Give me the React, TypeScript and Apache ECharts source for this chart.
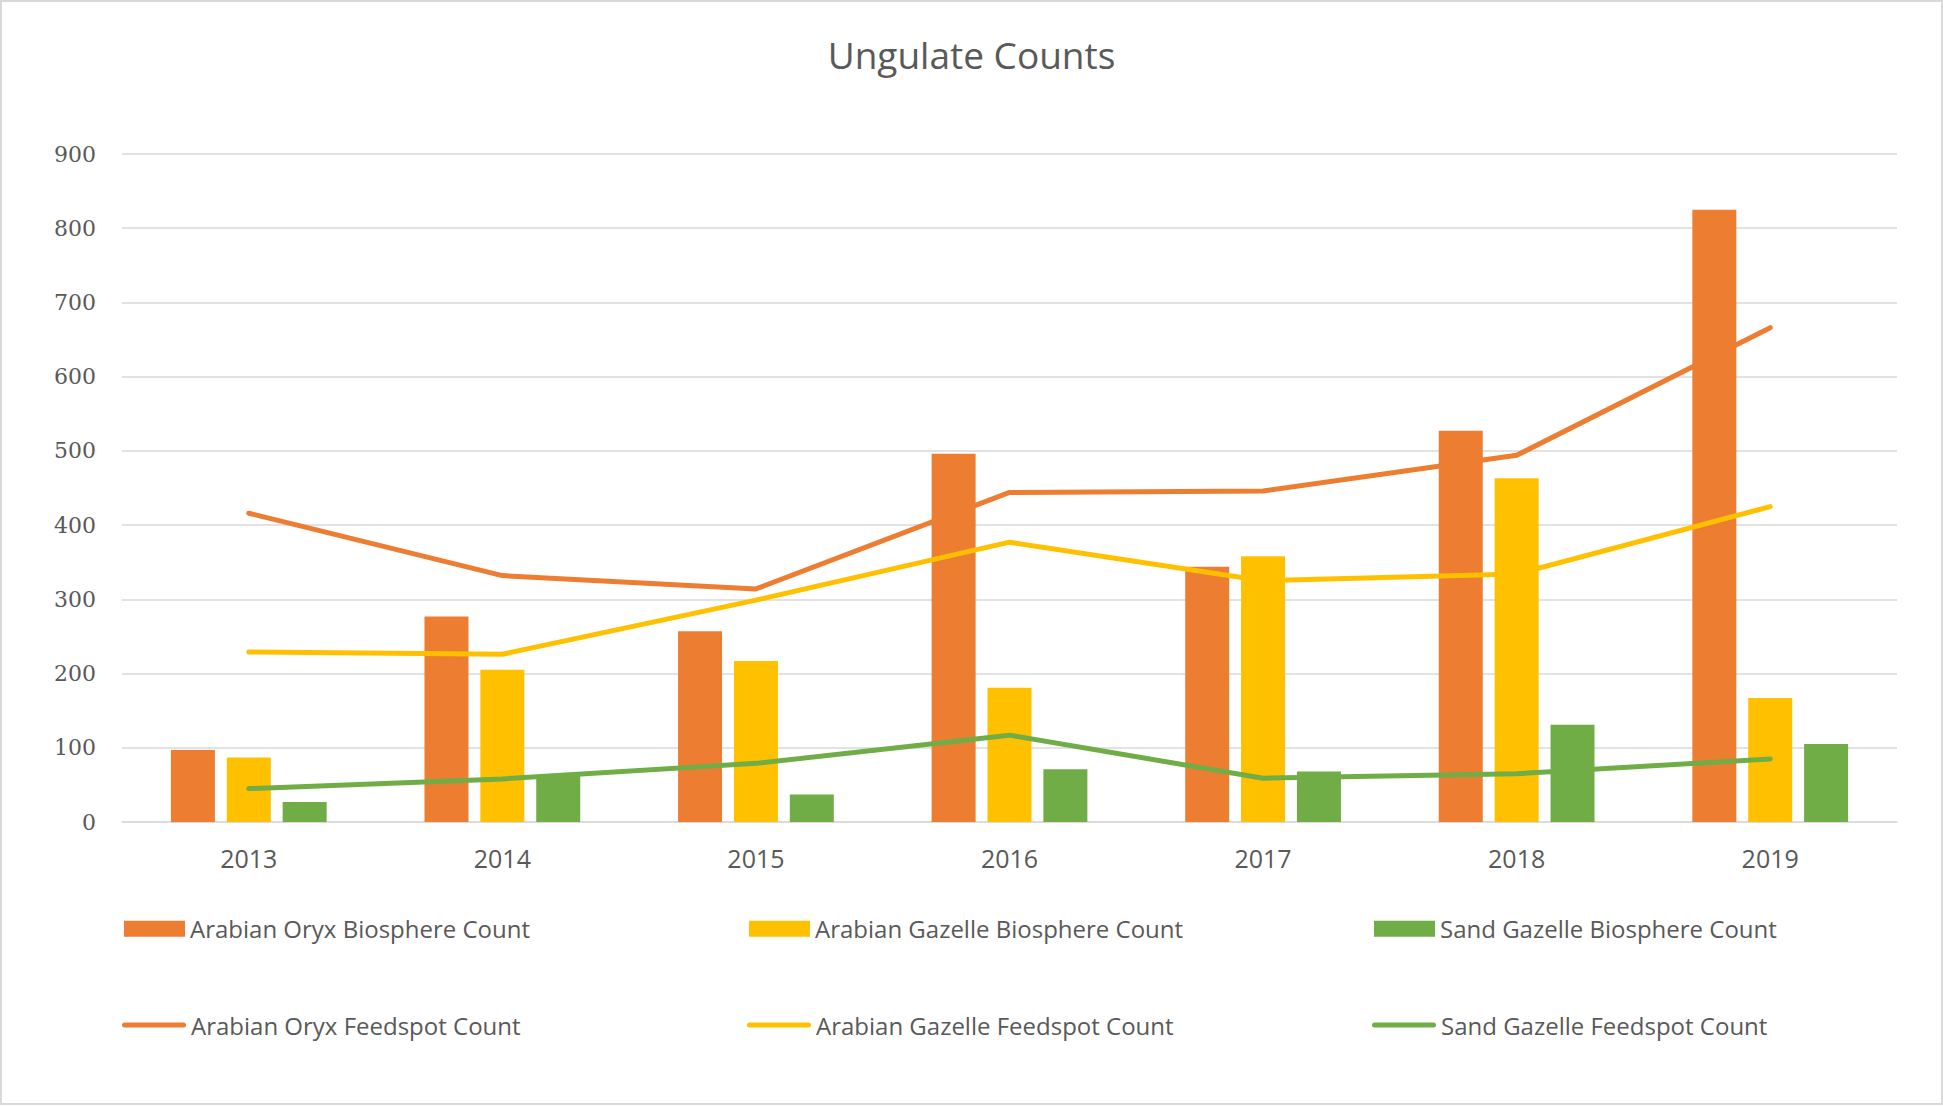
import React, { useEffect, useRef } from "react";
import * as echarts from "echarts";

const categories = ["2013", "2014", "2015", "2016", "2017", "2018", "2019"];
const oryxBiosphere = [97, 277, 257, 496, 344, 527, 825];
const gazelleBiosphere = [87, 205, 217, 181, 358, 463, 167];
const sandBiosphere = [27, 62, 37, 71, 68, 131, 105];
const oryxFeedspot = [416, 332, 314, 444, 446, 494, 666];
const gazelleFeedspot = [229, 226, 299, 377, 325, 334, 425];
const sandFeedspot = [45, 58, 79, 117, 59, 65, 85];

const names = [
  "Arabian Oryx Biosphere Count",
  "Arabian Gazelle Biosphere Count",
  "Sand Gazelle Biosphere Count",
  "Arabian Oryx Feedspot Count",
  "Arabian Gazelle Feedspot Count",
  "Sand Gazelle Feedspot Count",
];

const ORANGE = "#ED7D31";
const YELLOW = "#FFC000";
const GREEN = "#70AD47";
const TEXT = "#595959";
const GRID = "#D9D9D9";

const CAPSULE = "path://M2.5,0 H61.5 A2.5,2.5 0 0 1 61.5,5 H2.5 A2.5,2.5 0 0 1 2.5,0 Z";

export default function App() {
  const ref = useRef<HTMLDivElement>(null);
  useEffect(() => {
    if (!ref.current) return;
    const chart = echarts.init(ref.current, undefined, { renderer: "svg" });
    const colX = [124, 749, 1374];
    const rowTop = [916.7, 1013];
    const legends = names.map((n, i) => {
      const isLine = i >= 3;
      return {
        data: [n],
        left: isLine ? colX[i % 3] - 2 : colX[i % 3],
        top: rowTop[Math.floor(i / 3)],
        orient: "horizontal",
        padding: 0,
        icon: isLine ? CAPSULE : "rect",
        itemWidth: isLine ? 64 : 61,
        itemHeight: isLine ? 5 : 16,
        itemGap: 0,
        textStyle: {
          fontFamily: "Open Sans",
          fontSize: 24,
          lineHeight: 24,
          color: TEXT,
          padding: [0, 0, 0, 0],
        },
        selectedMode: false,
      };
    });
    const barSeries = (name: string, data: number[], color: string) => ({
      name,
      type: "bar",
      data,
      barWidth: 44,
      barGap: "27%",
      itemStyle: { color },
      z: 2,
    });
    const lineSeries = (name: string, data: number[], color: string) => ({
      name,
      type: "line",
      data,
      symbol: "none",
      lineStyle: { color, width: 5, cap: "round", join: "round" },
      itemStyle: { color },
      z: 3,
    });
    chart.setOption({
      animation: false,
      backgroundColor: "#ffffff",
      title: {
        text: "Ungulate Counts",
        left: "center",
        top: 36,
        padding: 0,
        textStyle: {
          fontFamily: "Open Sans",
          fontSize: 37,
          fontWeight: "normal",
          color: TEXT,
        },
      },
      graphic: [
        {
          type: "rect",
          shape: { x: 1, y: 1, width: 1941, height: 1103 },
          style: { fill: "none", stroke: GRID, lineWidth: 2 },
          silent: true,
        },
      ],
      legend: legends,
      grid: { left: 122, right: 46, top: 154, bottom: 284, containLabel: false },
      xAxis: {
        type: "category",
        data: categories,
        axisLine: { show: true, lineStyle: { color: GRID, width: 1.5 } },
        axisTick: { show: false },
        axisLabel: {
          fontFamily: "Open Sans",
          fontSize: 25,
          color: TEXT,
          margin: 23,
        },
      },
      yAxis: {
        type: "value",
        min: 0,
        max: 900,
        interval: 100,
        axisLine: { show: false },
        axisTick: { show: false },
        splitLine: { lineStyle: { color: GRID, width: 1.5 } },
        axisLabel: {
          fontFamily: "DejaVu Serif",
          fontSize: 22,
          color: TEXT,
          margin: 26,
        },
      },
      series: [
        barSeries(names[0], oryxBiosphere, ORANGE),
        barSeries(names[1], gazelleBiosphere, YELLOW),
        barSeries(names[2], sandBiosphere, GREEN),
        lineSeries(names[3], oryxFeedspot, ORANGE),
        lineSeries(names[4], gazelleFeedspot, YELLOW),
        lineSeries(names[5], sandFeedspot, GREEN),
      ],
    });
    return () => chart.dispose();
  }, []);
  return (
    <div
      ref={ref}
      style={{
        position: "fixed",
        left: 0,
        top: 0,
        width: 1943,
        height: 1106,
        background: "#fff",
      }}
    />
  );
}
